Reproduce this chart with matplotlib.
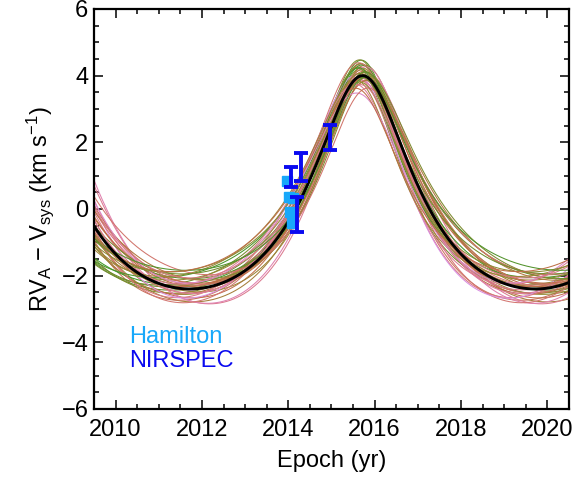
import numpy as np
import matplotlib
matplotlib.use("Agg")
import matplotlib.pyplot as plt
from matplotlib.colors import LinearSegmentedColormap
from matplotlib.ticker import MultipleLocator

plt.rcParams['font.family'] = ['Liberation Sans', 'DejaVu Sans']
plt.rcParams['mathtext.default'] = 'regular'

# Best-fit orbit of component A
best_P = 8.00      # period (yr)
best_Tp = 2015.72  # time of periastron (yr)
best_e = 0.30
best_w = 0.0       # argument of periastron (deg)
best_K = 3.20      # semi-amplitude (km/s)
best_g = -0.16     # offset (km/s)

# Orbits drawn from the posterior
post_P = [7.45, 7.50, 7.55, 7.60, 7.64, 7.68, 7.72, 7.76, 7.80, 7.83,
          7.86, 7.89, 7.92, 7.95, 7.98, 8.01, 8.04, 8.07, 8.10, 8.13,
          8.16, 8.19, 8.22, 8.25, 8.28, 8.31, 8.34, 8.38, 8.42, 8.46,
          8.50, 8.54, 8.58, 8.62, 8.66, 8.70, 8.75, 8.80, 7.70, 8.05]
post_e = [0.25, 0.23, 0.26, 0.24, 0.27, 0.25, 0.28, 0.26, 0.29, 0.27,
          0.30, 0.27, 0.30, 0.28, 0.31, 0.28, 0.31, 0.29, 0.32, 0.30,
          0.33, 0.30, 0.33, 0.31, 0.34, 0.32, 0.34, 0.32, 0.35, 0.33,
          0.36, 0.34, 0.37, 0.35, 0.37, 0.36, 0.38, 0.37, 0.28, 0.31]
post_w = [10, 8, -5, 4, 10, -8, 2, 12, -3, 6,
          -10, 0, 7, -6, 3, -2, 9, -7, 5, -12,
          1, -4, 11, -9, 6, -1, 8, -6, 3, -11,
          10, -3, 5, -8, 2, -5, 7, -2, 4, -6]
post_K = [3.35, 2.85, 3.55, 3.20, 3.00, 3.45, 2.90, 3.30, 3.10, 3.60,
          2.80, 3.25, 3.50, 3.05, 3.20, 3.40, 2.75, 3.15, 3.45, 3.00,
          3.25, 3.55, 2.95, 3.30, 3.10, 3.40, 2.85, 3.20, 3.50, 3.05,
          3.25, 2.95, 3.35, 3.10, 3.45, 2.90, 3.15, 3.30, 3.20, 3.10]
post_g = [-0.15, -0.02, -0.20, -0.10, -0.05, -0.25, 0.02, -0.20, -0.08, -0.18,
          0.00, -0.15, -0.28, -0.05, -0.12, -0.22, 0.03, -0.10, -0.20, -0.02,
          -0.15, -0.30, -0.03, -0.20, -0.08, -0.25, 0.00, -0.12, -0.25, -0.05,
          -0.18, 0.00, -0.22, -0.06, -0.26, 0.02, -0.10, -0.20, -0.12, -0.08]
post_Tp = [2015.70, 2015.68, 2015.73, 2015.71, 2015.66, 2015.74, 2015.69, 2015.72, 2015.67, 2015.70,
           2015.73, 2015.68, 2015.71, 2015.75, 2015.69, 2015.72, 2015.66, 2015.70, 2015.74, 2015.68,
           2015.71, 2015.73, 2015.67, 2015.70, 2015.72, 2015.69, 2015.74, 2015.71, 2015.68, 2015.73,
           2015.70, 2015.66, 2015.72, 2015.69, 2015.71, 2015.74, 2015.70, 2015.68, 2015.72, 2015.70]

# Radial velocity measurements
ham_t = [2013.97, 2014.02, 2014.12, 2014.03, 2014.08]
ham_rv = [0.85, 0.35, 0.33, -0.10, -0.42]
ham_err = [0.08, 0.08, 0.08, 0.10, 0.12]

nir_t = [2014.07, 2014.30, 2014.19, 2014.97]
nir_rv = [0.95, 1.25, -0.17, 2.15]
nir_err = [0.30, 0.42, 0.52, 0.37]


def radial_velocity(t, P, Tp, e, w_deg, K, g):
    M = 2 * np.pi * np.mod((t - Tp) / P, 1.0)
    E = M.copy()
    for _ in range(50):
        E = E - (E - e * np.sin(E) - M) / (1 - e * np.cos(E))
    nu = 2 * np.arctan2(np.sqrt(1 + e) * np.sin(E / 2), np.sqrt(1 - e) * np.cos(E / 2))
    w = np.radians(w_deg)
    return g + K * (np.cos(nu + w) + e * np.cos(w))


cmap = LinearSegmentedColormap.from_list(
    "orbits",
    [(0.0, "#d98fe0"), (0.08, "#e07fa8"), (0.25, "#d8787a"), (0.45, "#bc6e44"),
     (0.62, "#958a34"), (0.82, "#6e8c2c"), (1.0, "#40982a")])

fig = plt.figure(figsize=(5.87, 4.78), dpi=100)
ax = fig.add_axes([0.1601, 0.1444, 0.8092, 0.8368])

t = np.linspace(2009.0, 2021.0, 1200)
Pmin, Pmax = min(post_P), max(post_P)
order = np.argsort(post_g)
for i in order:
    rv = radial_velocity(t, post_P[i], post_Tp[i], post_e[i], post_w[i], post_K[i], post_g[i])
    c = cmap((post_P[i] - Pmin) / (Pmax - Pmin))
    ax.plot(t, rv, color=c, lw=0.75, zorder=2)

ax.plot(t, radial_velocity(t, best_P, best_Tp, best_e, best_w, best_K, best_g),
        color='black', lw=2.1, zorder=3)

ham_col = '#18a8fa'
nir_col = '#0a0af0'
ax.errorbar(ham_t, ham_rv, yerr=ham_err, fmt='s', color=ham_col, ms=7,
            elinewidth=1.5, capsize=3, capthick=1.5, zorder=4)
ax.errorbar(nir_t, nir_rv, yerr=nir_err, fmt='none', ecolor=nir_col,
            elinewidth=2.8, capsize=4.7, capthick=2.8, zorder=5)

ax.text(0.074, 0.165, "Hamilton", color=ham_col, fontsize=17, transform=ax.transAxes)
ax.text(0.074, 0.105, "NIRSPEC", color=nir_col, fontsize=17, transform=ax.transAxes)

ax.set_xlim(2009.5, 2020.5)
ax.set_ylim(-6, 6)
ax.xaxis.set_major_locator(MultipleLocator(2))
ax.xaxis.set_minor_locator(MultipleLocator(0.5))
ax.yaxis.set_major_locator(MultipleLocator(2))
ax.yaxis.set_minor_locator(MultipleLocator(0.5))
ax.tick_params(which='both', direction='in', top=True, right=True, width=1.1, labelsize=17)
ax.tick_params(which='major', length=6.5)
ax.tick_params(which='minor', length=3.5)
ax.tick_params(axis='x', pad=7)
ax.tick_params(axis='y', pad=4)
for s in ax.spines.values():
    s.set_linewidth(1.6)

ax.set_xlabel("Epoch (yr)", fontsize=17, labelpad=7)
ax.set_ylabel("RV$_{A}$ \u2212 V$_{sys}$ (km s$^{-1}$)", fontsize=17, labelpad=4)

fig.savefig("out.png", dpi=100)
